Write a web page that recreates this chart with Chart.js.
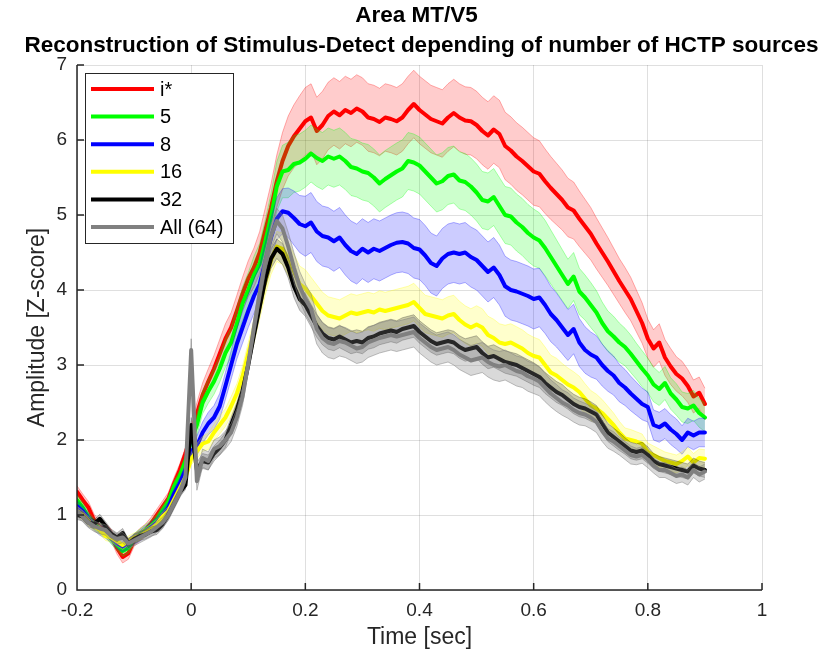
<!DOCTYPE html>
<html>
<head>
<meta charset="utf-8">
<script src="https://cdn.jsdelivr.net/npm/chart.js@4.4.1/dist/chart.umd.min.js"></script>
<style>
  html, body { margin: 0; padding: 0; background: #fff; }
  #wrap { width: 831px; height: 661px; }
</style>
</head>
<body>
<div id="wrap"><canvas id="chart" width="831" height="661"></canvas></div>
<script>
// time axis in seconds (-0.2 .. 0.9, 10 ms steps)
const TIME = [
  -0.2, -0.19, -0.18, -0.17, -0.16, -0.15, -0.14, -0.13, -0.12, -0.11,
  -0.1, -0.09, -0.08, -0.07, -0.06, -0.05, -0.04, -0.03, -0.02, -0.01, 0,
  0.01, 0.02, 0.03, 0.04, 0.05, 0.06, 0.07, 0.08, 0.09, 0.1,
  0.11, 0.12, 0.13, 0.14, 0.15, 0.16, 0.17, 0.18, 0.19, 0.2,
  0.21, 0.22, 0.23, 0.24, 0.25, 0.26, 0.27, 0.28, 0.29, 0.3,
  0.31, 0.32, 0.33, 0.34, 0.35, 0.36, 0.37, 0.38, 0.39, 0.4,
  0.41, 0.42, 0.43, 0.44, 0.45, 0.46, 0.47, 0.48, 0.49, 0.5,
  0.51, 0.52, 0.53, 0.54, 0.55, 0.56, 0.57, 0.58, 0.59, 0.6,
  0.61, 0.62, 0.63, 0.64, 0.65, 0.66, 0.67, 0.68, 0.69, 0.7,
  0.71, 0.72, 0.73, 0.74, 0.75, 0.76, 0.77, 0.78, 0.79, 0.8,
  0.81, 0.82, 0.83, 0.84, 0.85, 0.86, 0.87, 0.88, 0.89, 0.9
];

// mean amplitude (Z-score) per number of sources
const ISTAR = [
  1.31, 1.2, 1.1, 0.93, 0.84, 0.8, 0.73, 0.56, 0.44, 0.49,
  0.66, 0.74, 0.8, 0.89, 1.0, 1.11, 1.22, 1.42, 1.6, 1.82, 2.08,
  2.35, 2.6, 2.78, 2.95, 3.15, 3.35, 3.5, 3.72, 3.95, 4.15,
  4.3, 4.5, 4.8, 5.1, 5.45, 5.72, 5.92, 6.05, 6.15, 6.25,
  6.3, 6.12, 6.2, 6.32, 6.38, 6.33, 6.4, 6.36, 6.42, 6.38,
  6.3, 6.28, 6.24, 6.3, 6.28, 6.25, 6.3, 6.4, 6.48, 6.4,
  6.34, 6.28, 6.25, 6.22, 6.3, 6.36, 6.3, 6.26, 6.25, 6.2,
  6.12, 6.06, 6.14, 6.08, 5.92, 5.86, 5.78, 5.72, 5.65, 5.58,
  5.55, 5.45, 5.36, 5.28, 5.2, 5.1, 5.06, 4.95, 4.85, 4.75,
  4.62, 4.5, 4.38, 4.25, 4.12, 4.0, 3.88, 3.72, 3.56, 3.35,
  3.22, 3.3, 3.1, 2.98, 2.88, 2.82, 2.72, 2.58, 2.63, 2.48
];
const SRC5 = [
  1.2, 1.1, 0.97, 0.88, 0.82, 0.78, 0.68, 0.6, 0.52, 0.56,
  0.68, 0.74, 0.8, 0.86, 0.94, 1.06, 1.18, 1.38, 1.52, 1.72, 2.0,
  2.2, 2.5, 2.65, 2.78, 2.95, 3.16, 3.3, 3.55, 3.82, 4.0,
  4.2, 4.35, 4.65, 4.98, 5.38, 5.58, 5.6, 5.68, 5.7, 5.75,
  5.82, 5.76, 5.72, 5.78, 5.75, 5.78, 5.72, 5.64, 5.62, 5.58,
  5.56, 5.5, 5.42, 5.48, 5.53, 5.58, 5.62, 5.72, 5.7, 5.66,
  5.58, 5.5, 5.42, 5.45, 5.52, 5.54, 5.46, 5.44, 5.38, 5.3,
  5.2, 5.18, 5.24, 5.12, 5.0, 4.98, 4.9, 4.84, 4.76, 4.7,
  4.66, 4.56, 4.44, 4.32, 4.2, 4.08, 4.18, 3.98, 3.9, 3.8,
  3.7, 3.56, 3.45, 3.38, 3.3, 3.24, 3.15, 3.05, 2.95, 2.86,
  2.74, 2.68, 2.76, 2.62, 2.54, 2.44, 2.42, 2.46, 2.36, 2.3
];
const SRC8 = [
  1.12, 1.05, 0.95, 0.86, 0.8, 0.76, 0.7, 0.62, 0.58, 0.62,
  0.68, 0.72, 0.78, 0.84, 0.9, 1.0, 1.1, 1.28, 1.42, 1.6, 1.85,
  1.92, 2.1, 2.22, 2.3, 2.45, 2.72, 3.0, 3.28, 3.5, 3.72,
  3.92, 4.08, 4.38, 4.7, 4.95, 5.05, 5.03, 4.96, 4.88, 4.85,
  4.9, 4.78, 4.72, 4.7, 4.65, 4.7, 4.6, 4.52, 4.48, 4.55,
  4.5, 4.55, 4.52, 4.56, 4.6, 4.63, 4.64, 4.62, 4.56, 4.54,
  4.46, 4.36, 4.32, 4.42, 4.48, 4.5, 4.48, 4.5, 4.44, 4.4,
  4.32, 4.24, 4.3, 4.2, 4.05, 4.0, 3.98, 3.95, 3.92, 3.88,
  3.9, 3.8, 3.68, 3.6, 3.5, 3.4, 3.48, 3.3, 3.2, 3.14,
  3.1, 3.0, 2.92, 2.86, 2.76, 2.7, 2.62, 2.55, 2.48, 2.44,
  2.2, 2.17, 2.22, 2.14, 2.08, 2.0, 2.1, 2.06, 2.1, 2.1
];
const SRC16 = [
  1.05, 1.0, 0.92, 0.85, 0.8, 0.72, 0.7, 0.65, 0.6, 0.66,
  0.7, 0.72, 0.77, 0.82, 0.88, 0.98, 1.05, 1.2, 1.35, 1.5, 1.75,
  1.85, 1.95, 1.98, 2.1, 2.2, 2.3, 2.45, 2.62, 2.85, 3.15,
  3.45, 3.78, 4.12, 4.4, 4.58, 4.55, 4.42, 4.25, 4.08, 4.02,
  3.92, 3.82, 3.72, 3.66, 3.64, 3.62, 3.66, 3.7, 3.68, 3.7,
  3.72, 3.7, 3.74, 3.72, 3.74, 3.76, 3.78, 3.8, 3.84, 3.76,
  3.68, 3.66, 3.64, 3.62, 3.66, 3.68, 3.6, 3.54, 3.5, 3.54,
  3.5, 3.4, 3.36, 3.3, 3.28, 3.3, 3.26, 3.22, 3.16, 3.12,
  3.1, 3.0, 2.9, 2.86, 2.8, 2.74, 2.7, 2.64, 2.55, 2.46,
  2.42, 2.36, 2.28, 2.2, 2.1, 2.02, 2.0, 1.98, 1.95, 1.84,
  1.8, 1.76, 1.72, 1.7, 1.68, 1.72, 1.78, 1.7, 1.76, 1.75
];
const SRC32 = [
  1.0, 0.98, 0.9, 0.88, 0.95, 0.85, 0.75, 0.7, 0.76, 0.62,
  0.68, 0.72, 0.74, 0.78, 0.8, 0.88, 1.0, 1.15, 1.3, 1.4, 2.2,
  1.6, 1.72, 1.7, 1.82, 1.9, 2.0, 2.2, 2.4, 2.65, 3.0,
  3.4, 3.78, 4.15, 4.42, 4.55, 4.48, 4.3, 4.05, 3.88, 3.8,
  3.66, 3.52, 3.42, 3.36, 3.34, 3.38, 3.34, 3.3, 3.32, 3.3,
  3.36, 3.38, 3.42, 3.44, 3.46, 3.44, 3.48, 3.5, 3.52, 3.44,
  3.38, 3.32, 3.28, 3.3, 3.32, 3.3, 3.24, 3.2, 3.22, 3.24,
  3.16, 3.1, 3.12, 3.08, 3.04, 3.02, 3.0, 2.96, 2.92, 2.88,
  2.84, 2.76, 2.7, 2.64, 2.6, 2.54, 2.48, 2.44, 2.42, 2.38,
  2.34, 2.22, 2.1, 2.04, 1.98, 1.92, 1.86, 1.84, 1.86, 1.8,
  1.72, 1.68, 1.66, 1.64, 1.62, 1.6, 1.58, 1.66, 1.62, 1.6
];
const SRC64 = [
  1.05, 0.98, 0.9, 0.85, 0.82, 0.8, 0.72, 0.68, 0.7, 0.62,
  0.66, 0.7, 0.74, 0.78, 0.84, 0.9, 1.0, 1.15, 1.3, 1.5, 3.2,
  1.45, 1.76, 1.72, 1.88, 1.92, 2.0, 2.1, 2.3, 2.58, 3.02,
  3.5, 3.95, 4.38, 4.72, 4.92, 4.82, 4.58, 4.3, 4.05, 3.88,
  3.75, 3.48, 3.36, 3.3, 3.28, 3.32, 3.3, 3.26, 3.22, 3.24,
  3.3, 3.33, 3.36, 3.38, 3.4, 3.38, 3.4, 3.42, 3.44, 3.36,
  3.3, 3.24, 3.2, 3.22, 3.24, 3.2, 3.14, 3.1, 3.06, 3.08,
  3.1, 3.04, 3.0, 2.98, 3.0, 2.96, 2.92, 2.9, 2.85, 2.82,
  2.78, 2.7, 2.62, 2.56, 2.5, 2.46, 2.4, 2.36, 2.34, 2.3,
  2.24, 2.12, 2.02, 1.98, 1.92, 1.86, 1.8, 1.78, 1.8, 1.74,
  1.66, 1.6, 1.6, 1.56, 1.52, 1.54, 1.5, 1.6, 1.54, 1.58
];

// half width of the shaded error band for each curve
const ISTAR_ERR = [
  0.08, 0.08, 0.08, 0.08, 0.08, 0.08, 0.08, 0.08, 0.08, 0.08,
  0.08, 0.08, 0.08, 0.08, 0.08, 0.08, 0.08, 0.08, 0.08, 0.08, 0.1,
  0.15, 0.16, 0.17, 0.18, 0.19, 0.2, 0.2, 0.21, 0.22, 0.24,
  0.26, 0.28, 0.3, 0.32, 0.35, 0.38, 0.4, 0.42, 0.44, 0.45,
  0.45, 0.45, 0.45, 0.45, 0.45, 0.45, 0.45, 0.45, 0.45, 0.45,
  0.45, 0.45, 0.45, 0.45, 0.45, 0.45, 0.45, 0.45, 0.45, 0.45,
  0.45, 0.45, 0.45, 0.45, 0.45, 0.45, 0.45, 0.45, 0.45, 0.45,
  0.45, 0.45, 0.45, 0.45, 0.45, 0.45, 0.45, 0.45, 0.45, 0.45,
  0.44, 0.43, 0.42, 0.41, 0.4, 0.39, 0.38, 0.37, 0.36, 0.35,
  0.34, 0.33, 0.32, 0.31, 0.3, 0.3, 0.29, 0.28, 0.27, 0.26,
  0.25, 0.25, 0.24, 0.24, 0.23, 0.23, 0.22, 0.22, 0.21, 0.21
];
const SRC5_ERR = [
  0.07, 0.07, 0.07, 0.07, 0.07, 0.07, 0.07, 0.07, 0.07, 0.07,
  0.07, 0.07, 0.07, 0.07, 0.07, 0.07, 0.07, 0.07, 0.07, 0.07, 0.1,
  0.14, 0.15, 0.16, 0.17, 0.18, 0.19, 0.2, 0.21, 0.22, 0.23,
  0.25, 0.27, 0.29, 0.31, 0.33, 0.35, 0.37, 0.38, 0.38, 0.38,
  0.38, 0.38, 0.38, 0.38, 0.38, 0.38, 0.38, 0.38, 0.38, 0.38,
  0.38, 0.38, 0.38, 0.38, 0.38, 0.38, 0.38, 0.38, 0.38, 0.38,
  0.38, 0.38, 0.38, 0.38, 0.38, 0.38, 0.38, 0.38, 0.38, 0.38,
  0.38, 0.38, 0.38, 0.38, 0.38, 0.38, 0.38, 0.38, 0.38, 0.38,
  0.37, 0.37, 0.36, 0.35, 0.34, 0.33, 0.32, 0.31, 0.3, 0.3,
  0.29, 0.28, 0.27, 0.27, 0.26, 0.25, 0.25, 0.24, 0.24, 0.23,
  0.23, 0.22, 0.22, 0.21, 0.21, 0.2, 0.2, 0.2, 0.19, 0.19
];
const SRC8_ERR = [
  0.07, 0.07, 0.07, 0.07, 0.07, 0.07, 0.07, 0.07, 0.07, 0.07,
  0.07, 0.07, 0.07, 0.07, 0.07, 0.07, 0.07, 0.07, 0.07, 0.07, 0.1,
  0.13, 0.14, 0.15, 0.16, 0.17, 0.18, 0.19, 0.2, 0.21, 0.22,
  0.23, 0.24, 0.25, 0.26, 0.28, 0.3, 0.33, 0.36, 0.38, 0.4,
  0.4, 0.4, 0.4, 0.4, 0.4, 0.4, 0.4, 0.4, 0.4, 0.4,
  0.4, 0.4, 0.4, 0.4, 0.4, 0.4, 0.4, 0.4, 0.4, 0.4,
  0.4, 0.4, 0.4, 0.4, 0.4, 0.4, 0.4, 0.4, 0.4, 0.4,
  0.4, 0.4, 0.4, 0.4, 0.4, 0.4, 0.4, 0.4, 0.4, 0.4,
  0.39, 0.38, 0.37, 0.36, 0.35, 0.34, 0.33, 0.32, 0.31, 0.3,
  0.29, 0.28, 0.27, 0.26, 0.25, 0.24, 0.23, 0.22, 0.21, 0.2,
  0.2, 0.2, 0.2, 0.2, 0.2, 0.19, 0.19, 0.19, 0.19, 0.19
];
const SRC16_ERR = [
  0.06, 0.06, 0.06, 0.06, 0.06, 0.06, 0.06, 0.06, 0.06, 0.06,
  0.06, 0.06, 0.06, 0.06, 0.06, 0.06, 0.06, 0.06, 0.06, 0.06, 0.08,
  0.1, 0.1, 0.11, 0.11, 0.12, 0.12, 0.13, 0.13, 0.14, 0.15,
  0.16, 0.17, 0.18, 0.19, 0.2, 0.21, 0.22, 0.23, 0.24, 0.25,
  0.25, 0.25, 0.25, 0.25, 0.25, 0.25, 0.25, 0.25, 0.25, 0.25,
  0.25, 0.25, 0.25, 0.25, 0.25, 0.25, 0.25, 0.25, 0.25, 0.25,
  0.25, 0.25, 0.25, 0.25, 0.25, 0.25, 0.25, 0.25, 0.25, 0.25,
  0.25, 0.25, 0.25, 0.25, 0.25, 0.25, 0.25, 0.25, 0.25, 0.25,
  0.24, 0.24, 0.23, 0.23, 0.22, 0.22, 0.21, 0.21, 0.2, 0.2,
  0.19, 0.18, 0.17, 0.16, 0.15, 0.14, 0.14, 0.13, 0.13, 0.12,
  0.12, 0.12, 0.12, 0.12, 0.12, 0.12, 0.12, 0.12, 0.12, 0.12
];
const SRC32_ERR = [
  0.06, 0.06, 0.06, 0.06, 0.06, 0.06, 0.06, 0.06, 0.06, 0.06,
  0.06, 0.06, 0.06, 0.06, 0.06, 0.06, 0.06, 0.06, 0.06, 0.06, 0.1,
  0.1, 0.1, 0.1, 0.1, 0.1, 0.1, 0.1, 0.1, 0.1, 0.1,
  0.11, 0.12, 0.12, 0.13, 0.13, 0.14, 0.14, 0.15, 0.15, 0.15,
  0.15, 0.15, 0.15, 0.15, 0.15, 0.15, 0.15, 0.15, 0.15, 0.15,
  0.15, 0.15, 0.15, 0.15, 0.15, 0.15, 0.15, 0.15, 0.15, 0.15,
  0.15, 0.15, 0.15, 0.15, 0.15, 0.15, 0.15, 0.15, 0.15, 0.15,
  0.15, 0.15, 0.15, 0.15, 0.15, 0.15, 0.15, 0.15, 0.15, 0.15,
  0.14, 0.14, 0.14, 0.14, 0.14, 0.13, 0.13, 0.13, 0.13, 0.13,
  0.12, 0.12, 0.12, 0.12, 0.12, 0.11, 0.11, 0.11, 0.11, 0.11,
  0.1, 0.1, 0.1, 0.1, 0.1, 0.1, 0.1, 0.1, 0.1, 0.1
];
const SRC64_ERR = [
  0.07, 0.07, 0.07, 0.07, 0.07, 0.07, 0.07, 0.07, 0.07, 0.07,
  0.07, 0.07, 0.07, 0.07, 0.07, 0.07, 0.07, 0.07, 0.07, 0.07, 0.15,
  0.12, 0.12, 0.12, 0.12, 0.12, 0.12, 0.12, 0.12, 0.12, 0.12,
  0.13, 0.14, 0.15, 0.16, 0.17, 0.18, 0.19, 0.2, 0.2, 0.2,
  0.2, 0.2, 0.2, 0.2, 0.2, 0.2, 0.2, 0.2, 0.2, 0.2,
  0.2, 0.2, 0.2, 0.2, 0.2, 0.2, 0.2, 0.2, 0.2, 0.2,
  0.2, 0.2, 0.2, 0.2, 0.2, 0.2, 0.2, 0.2, 0.2, 0.2,
  0.2, 0.2, 0.2, 0.2, 0.2, 0.2, 0.2, 0.2, 0.2, 0.2,
  0.19, 0.19, 0.18, 0.18, 0.17, 0.17, 0.16, 0.16, 0.15, 0.15,
  0.14, 0.14, 0.13, 0.13, 0.12, 0.12, 0.12, 0.11, 0.11, 0.11,
  0.1, 0.1, 0.1, 0.1, 0.1, 0.1, 0.1, 0.1, 0.1, 0.1
];

const X_TICKS = [-0.2, 0, 0.2, 0.4, 0.6, 0.8, 1];
const Y_TICKS = [0, 1, 2, 3, 4, 5, 6, 7];
const TITLE_LINES = ['Area MT/V5', 'Reconstruction of Stimulus-Detect depending of number of HCTP sources'];

const FONT = '"Liberation Sans", Arial, Helvetica, sans-serif';
const INK = '#262626';

const SERIES = [
  { label: 'i*',       rgb: '255,0,0',     values: ISTAR, err: ISTAR_ERR, edge: 0.3,  fillA: 0.2 },
  { label: '5',        rgb: '0,255,0',     values: SRC5,  err: SRC5_ERR,  edge: 0.3,  fillA: 0.2 },
  { label: '8',        rgb: '0,0,255',     values: SRC8,  err: SRC8_ERR,  edge: 0.3,  fillA: 0.2 },
  { label: '16',       rgb: '255,255,0',   values: SRC16, err: SRC16_ERR, edge: 0.3,  fillA: 0.2 },
  { label: '32',       rgb: '0,0,0',       values: SRC32, err: SRC32_ERR, edge: 0.25, fillA: 0.2 },
  { label: 'All (64)', rgb: '128,128,128', values: SRC64, err: SRC64_ERR, edge: 0.5,  fillA: 0.3 }
];

const pts = arr => arr.map((v, k) => ({ x: TIME[k], y: v }));

// later curves sit on top (lower order = drawn last)
const datasets = [];
SERIES.forEach((s, i) => {
  const z = (SERIES.length - i) * 10;
  datasets.push({
    label: s.label + ' upper', band: true,
    data: pts(s.values.map((v, k) => v + s.err[k])),
    borderColor: `rgba(${s.rgb},${s.edge})`, borderWidth: 1,
    pointRadius: 0, fill: false, order: z + 5
  });
  datasets.push({
    label: s.label + ' lower', band: true,
    data: pts(s.values.map((v, k) => v - s.err[k])),
    borderColor: `rgba(${s.rgb},${s.edge})`, borderWidth: 1,
    backgroundColor: `rgba(${s.rgb},${s.fillA})`,
    pointRadius: 0, fill: '-1', order: z + 5
  });
  datasets.push({
    label: s.label,
    data: pts(s.values),
    borderColor: `rgb(${s.rgb})`, borderWidth: 4,
    borderJoinStyle: 'round', borderCapStyle: 'round',
    pointRadius: 0, fill: false, order: z
  });
});

// title, inward ticks, axes lines and the boxed legend
const matlabDeco = {
  id: 'matlabDeco',
  afterDatasetsDraw(chart) {
    const { ctx, chartArea: a, scales } = chart;
    ctx.save();

    // axes lines + inward ticks
    ctx.strokeStyle = INK;
    ctx.lineWidth = 1.5;
    ctx.beginPath();
    ctx.moveTo(a.left, a.top);
    ctx.lineTo(a.left, a.bottom);
    ctx.lineTo(a.right, a.bottom);
    X_TICKS.forEach(v => {
      const px = scales.x.getPixelForValue(v);
      ctx.moveTo(px, a.bottom);
      ctx.lineTo(px, a.bottom - 7);
    });
    Y_TICKS.forEach(v => {
      const py = scales.y.getPixelForValue(v);
      ctx.moveTo(a.left, py);
      ctx.lineTo(a.left + 7, py);
    });
    ctx.stroke();

    // legend box
    const lx = a.left + 8, ly = a.top + 8, lw = 148, lh = 170;
    ctx.fillStyle = '#fff';
    ctx.fillRect(lx, ly, lw, lh);
    ctx.lineWidth = 1;
    ctx.strokeStyle = INK;
    ctx.strokeRect(lx + 0.5, ly + 0.5, lw, lh);
    ctx.font = `20px ${FONT}`;
    ctx.textBaseline = 'middle';
    ctx.textAlign = 'left';
    SERIES.forEach((s, i) => {
      const y = ly + 16 + i * 27.6;
      ctx.strokeStyle = `rgb(${s.rgb})`;
      ctx.lineWidth = 4;
      ctx.beginPath();
      ctx.moveTo(lx + 6, y);
      ctx.lineTo(lx + 69, y);
      ctx.stroke();
      ctx.fillStyle = '#000';
      ctx.fillText(s.label, lx + 75, y + 1);
    });

    // two-line bold title
    const cx = (a.left + a.right) / 2;
    ctx.fillStyle = '#000';
    ctx.font = `bold 22.5px ${FONT}`;
    ctx.textAlign = 'center';
    ctx.fillText(TITLE_LINES[0], cx - 3, 16);
    ctx.fillText(TITLE_LINES[1], cx + 2, 46);
    ctx.restore();
  }
};

new Chart(document.getElementById('chart'), {
  type: 'line',
  data: { datasets },
  options: {
    responsive: false,
    animation: false,
    layout: { padding: { left: 0, right: 69, top: 65, bottom: 0 } },
    plugins: {
      legend: { display: false },
      title: { display: false },
      tooltip: { enabled: false }
    },
    scales: {
      x: {
        type: 'linear',
        min: -0.2,
        max: 1,
        afterFit: s => { s.height = 71; },
        border: { display: false },
        grid: { color: 'rgba(38,38,38,0.15)', lineWidth: 1, drawTicks: false },
        ticks: {
          stepSize: 0.2,
          padding: 9,
          color: INK,
          font: { family: FONT, size: 19 },
          maxRotation: 0,
          callback: v => Number(v.toFixed(1)).toString()
        },
        title: {
          display: true,
          text: 'Time [sec]',
          color: INK,
          font: { family: FONT, size: 23 },
          padding: { top: 0, bottom: 10 }
        }
      },
      y: {
        min: 0,
        max: 7,
        afterFit: s => { s.width = 77; },
        border: { display: false },
        grid: { color: 'rgba(38,38,38,0.15)', lineWidth: 1, drawTicks: false },
        ticks: {
          stepSize: 1,
          padding: 10,
          color: INK,
          font: { family: FONT, size: 19 }
        },
        title: {
          display: true,
          text: 'Amplitude [Z-score]',
          color: INK,
          font: { family: FONT, size: 23 },
          padding: { top: 24, bottom: 0 }
        }
      }
    }
  },
  plugins: [matlabDeco]
});
</script>
</body>
</html>
